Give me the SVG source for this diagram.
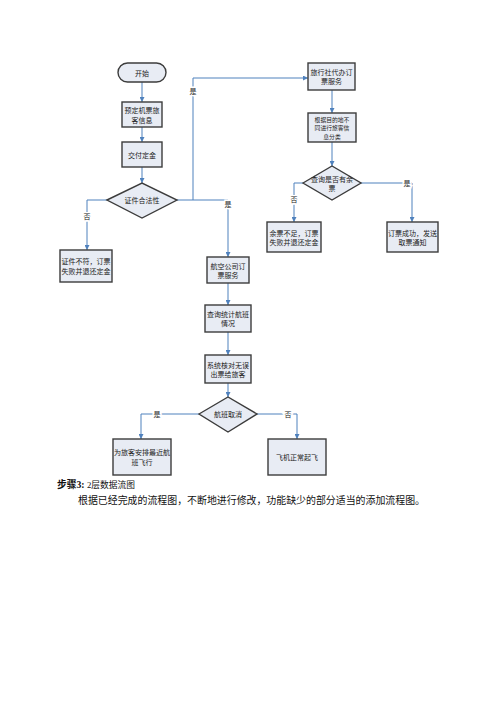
<svg xmlns="http://www.w3.org/2000/svg" width="500" height="707" viewBox="0 0 500 707">
<style>
.box{fill:#e8ecf4;stroke:#3c3c3c;stroke-width:1.4}
.t{font-family:"Noto Sans CJK SC","Liberation Serif",serif;font-size:7px;fill:#222;text-anchor:middle;dominant-baseline:central}
.s{font-size:5.8px}
.c{fill:none;stroke:#4f81bd;stroke-width:1}
.lbl{font-family:"Noto Sans CJK SC","Liberation Serif",serif;font-size:7px;fill:#222;text-anchor:middle;dominant-baseline:central;stroke:#fff;stroke-width:3;paint-order:stroke}
.body{font-family:"Liberation Serif","Noto Sans CJK SC",serif;fill:#111}
</style>
<defs>
<marker id="a" viewBox="0 0 6 6" refX="6" refY="3" markerWidth="5" markerHeight="5" orient="auto" markerUnits="userSpaceOnUse">
<path d="M0,0 L6,3 L0,6 z" fill="#4f81bd"/>
</marker>
</defs>
<rect width="500" height="707" fill="#fff"/>
<g id="connectors">
<path class="c" d="M142,82 V102" marker-end="url(#a)"/>
<path class="c" d="M142,127 V142" marker-end="url(#a)"/>
<path class="c" d="M142,167 V183" marker-end="url(#a)"/>
<path class="c" d="M177,200 H228 V257" marker-end="url(#a)"/>
<path class="c" d="M193,200 V78 H308" marker-end="url(#a)"/>
<path class="c" d="M107,200 H87 V250" marker-end="url(#a)"/>
<path class="c" d="M332,90 V113" marker-end="url(#a)"/>
<path class="c" d="M332,142 V166" marker-end="url(#a)"/>
<path class="c" d="M303,183 H294 V222" marker-end="url(#a)"/>
<path class="c" d="M361,183 H412 V222" marker-end="url(#a)"/>
<path class="c" d="M228,283 V305" marker-end="url(#a)"/>
<path class="c" d="M228,332 V355" marker-end="url(#a)"/>
<path class="c" d="M228,383 V397" marker-end="url(#a)"/>
<path class="c" d="M199,414 H141 V439" marker-end="url(#a)"/>
<path class="c" d="M257,414 H297 V439" marker-end="url(#a)"/>
<text class="lbl" x="193" y="91">是</text>
<text class="lbl" x="228" y="204">是</text>
<text class="lbl" x="87" y="216">否</text>
<text class="lbl" x="294" y="199">否</text>
<text class="lbl" x="407" y="183">是</text>
<text class="lbl" x="157" y="414">是</text>
<text class="lbl" x="288" y="414">否</text>
</g>
<g id="start"><rect class="box" x="118" y="63" width="48" height="19" rx="9.5"/><text class="t" x="142" y="72.5">开始</text></g>
<g id="n1"><rect class="box" x="122" y="102" width="40" height="25"/><text class="t" x="142" y="110">预定机票旅</text><text class="t" x="142" y="119.5">客信息</text></g>
<g id="n2"><rect class="box" x="122" y="142" width="40" height="25"/><text class="t" x="142" y="154.5">交付定金</text></g>
<g id="d1"><polygon class="box" points="107,200 142,183 177,200 142,218"/><text class="t" x="142" y="200">证件合法性</text></g>
<g id="n3"><rect class="box" x="60" y="250" width="52" height="32"/><text class="t" x="86" y="261">证件不符，订票</text><text class="t" x="86" y="271">失败并退还定金</text></g>
<g id="n4"><rect class="box" x="308" y="63" width="47" height="27"/><text class="t" x="331.5" y="72">旅行社代办订</text><text class="t" x="331.5" y="81">票服务</text></g>
<g id="n5"><rect class="box" x="308" y="113" width="48" height="29"/><text class="t s" x="332" y="119">根据目的地不</text><text class="t s" x="332" y="127.5">同进行旅客信</text><text class="t s" x="332" y="136">息分类</text></g>
<g id="d2"><polygon class="box" points="303,183 332,166 361,183 332,200"/><text class="t" x="332" y="178.5">查询是否有余</text><text class="t" x="332" y="187.5">票</text></g>
<g id="n6"><rect class="box" x="267" y="222" width="54" height="30"/><text class="t" x="294" y="232.5">余票不足，订票</text><text class="t" x="294" y="242">失败并退还定金</text></g>
<g id="n7"><rect class="box" x="387" y="222" width="51" height="30"/><text class="t" x="412.5" y="232.5">订票成功，发送</text><text class="t" x="412.5" y="242">取票通知</text></g>
<g id="n8"><rect class="box" x="207" y="257" width="42" height="26"/><text class="t" x="228" y="266">航空公司订</text><text class="t" x="228" y="275">票服务</text></g>
<g id="n9"><rect class="box" x="205" y="305" width="46" height="27"/><text class="t" x="228" y="314">查询统计航班</text><text class="t" x="228" y="323">情况</text></g>
<g id="n10"><rect class="box" x="205" y="355" width="46" height="28"/><text class="t" x="228" y="364.5">系统核对无误</text><text class="t" x="228" y="373.5">出票给旅客</text></g>
<g id="d3"><polygon class="box" points="199,414 228,397 257,414 228,432"/><text class="t" x="228" y="414">航班取消</text></g>
<g id="n11"><rect class="box" x="113" y="439" width="58" height="36"/><text class="t" x="142" y="452">为旅客安排最近航</text><text class="t" x="142" y="462">班飞行</text></g>
<g id="n12"><rect class="box" x="268" y="439" width="58" height="36"/><text class="t" x="297" y="457">飞机正常起飞</text></g>
<text class="body" x="57" y="488" font-size="10" textLength="78" lengthAdjust="spacingAndGlyphs"><tspan font-weight="bold">步骤3: </tspan><tspan font-size="9">2层数据流图</tspan></text>
<text class="body" x="78" y="504" font-size="10.2" textLength="347" lengthAdjust="spacingAndGlyphs">根据已经完成的流程图，不断地进行修改，功能缺少的部分适当的添加流程图。</text>
</svg>
